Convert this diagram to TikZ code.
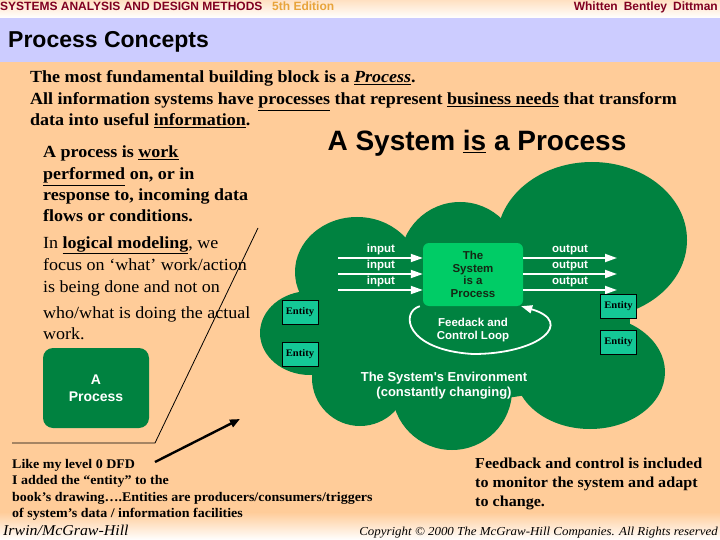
\documentclass[tikz,border=0pt]{standalone}
\usepackage{fontspec}
\setmainfont{Liberation Serif}[FakeStretch=1.06]
\setsansfont{Liberation Sans}
\usetikzlibrary{arrows.meta}
\definecolor{peach}{RGB}{255,204,153}
\definecolor{lav}{RGB}{204,204,255}
\definecolor{cloudg}{RGB}{0,130,64}
\definecolor{boxg}{RGB}{0,204,102}
\definecolor{entg}{RGB}{20,200,150}
\definecolor{hdred}{RGB}{128,0,32}
\definecolor{hdgold}{RGB}{232,164,60}
\newcommand{\fsz}[2]{\fontsize{#1}{#2}\selectfont}
\begin{document}
\begin{tikzpicture}[x=1pt,y=-1pt,
  txt/.style={anchor=base west, inner sep=0pt, font=\bfseries\fsz{17}{20}},
  rtxt/.style={anchor=base west, inner sep=0pt, font=\fsz{17}{20}},
  smalltxt/.style={anchor=base west, inner sep=0pt, font=\bfseries\fsz{13.2}{15}},
  midtxt/.style={anchor=base west, inner sep=0pt, font=\bfseries\fsz{15.2}{17}},
  flowlbl/.style={inner sep=0pt, text=white, font=\sffamily\bfseries\fsz{11.5}{13}},
  flow/.style={draw=white, line width=1.8pt, -{Triangle[length=12pt,width=8pt]}},
  ent/.style={draw=black, fill=entg, line width=0.8pt, minimum width=36pt, minimum height=24pt, inner sep=0pt, font=\bfseries\fsz{10}{11}},
  hdr/.style={anchor=base west, inner sep=0pt, font=\sffamily\bfseries\fsz{12}{14}}
]
\useasboundingbox (0,0) rectangle (720,540);
% backgrounds
\fill[peach] (0,0) rectangle (720,540);
\shade[top color=peach!60!white, bottom color=white] (0,0) rectangle (720,18);
\fill[lav] (0,18) rectangle (720,62);
\shade[top color=peach, bottom color=white] (0,512) rectangle (720,540);

% header
\node[hdr, text=hdred] (h1) at (0,11) {SYSTEMS ANALYSIS AND DESIGN METHODS};
\node[hdr, text=hdgold] (h2) at (272,11) {5th Edition};
\node[hdr, text=hdred, anchor=base east] (h3) at (718,11) {Whitten\hspace{6pt}Bentley\hspace{6pt}Dittman};
\node[anchor=base west, inner sep=0pt, font=\sffamily\bfseries\fsz{23}{26}] (pc) at (8,48) {Process Concepts};

% intro text
\node[txt] (l1) at (30,83) {The most fundamental building block is a \underline{\textit{Process}}.};
\node[txt] (l2) at (30,105) {All information systems have \underline{processes} that represent \underline{business needs} that transform};
\node[txt] (l3) at (30,126) {data into useful \underline{information}.};
\node[anchor=base, inner sep=0pt, font=\sffamily\bfseries\fsz{28}{32}] (title) at (477,151) {A System \underline{is} a Process};

% left paragraph
\node[txt] (p1) at (43,158) {A process is \underline{work}};
\node[txt] (p2) at (43,180) {\underline{performed} on, or in};
\node[txt] (p3) at (43,201) {response to, incoming data};
\node[txt] (p4) at (43,222) {flows or conditions.};
\node[rtxt] (p5) at (43,248) {In \textbf{\underline{logical modeling}}, we};
\node[rtxt] (p6) at (43,270) {focus on ‘what’ work/action};
\node[rtxt] (p7) at (43,292) {is being done and not on};
\node[rtxt] (p8) at (43,318) {who/what is doing the actual};
\node[rtxt] (p9) at (43,339) {work.};

% A Process box
\node[rounded corners=10pt, fill=cloudg, minimum width=106pt, minimum height=80pt, text=white, align=center, font=\sffamily\bfseries\fsz{14}{17}] (ap) at (96,388) {A\\Process};

% pointer lines
\coordinate (q1) at (12,443);
\coordinate (q2) at (155,443);
\coordinate (q3) at (258,228);
\draw[line width=0.8pt] (q1) -- (q2) -- (q3);
\coordinate (ab) at (155,462);
\coordinate (ae) at (240,419);
\draw[line width=2.4pt, -{Triangle[length=10pt,width=8pt]}] (ab) -- (ae);

% cloud
\fill[cloudg] (470,320) ellipse [x radius=160, y radius=80];
\fill[cloudg] (357,272) ellipse [x radius=62, y radius=55];
\fill[cloudg] (460,262) circle [radius=60];
\fill[cloudg] (592,240) ellipse [x radius=95, y radius=78];
\fill[cloudg] (590,372) ellipse [x radius=75, y radius=57];
\fill[cloudg] (452,390) circle [radius=60];
\fill[cloudg] (360,378) circle [radius=48];
\fill[cloudg] (310,333) ellipse [x radius=50, y radius=42];

% system box
\node[fill=boxg, rounded corners=6pt, minimum width=100pt, minimum height=63pt, inner sep=0pt, align=center, text={rgb,255:red,20;green,40;blue,20}, font=\sffamily\bfseries\fsz{11.5}{12.7}] (sys) at (473,274.5) {The\\System\\is a\\Process};

% inputs / outputs
\foreach \k/\yy in {1/258,2/274,3/290}{
  \coordinate (i\k) at (338,\yy);
  \coordinate (o\k) at (617,\yy);
  \draw[flow] (i\k) -- (i\k -| sys.west);
  \draw[flow] (o\k -| sys.east) -- (o\k);
}
\node[flowlbl] (il1) at (381,250) {input};
\node[flowlbl] (il2) at (381,266) {input};
\node[flowlbl] (il3) at (381,282) {input};
\node[flowlbl] (ol1) at (570,250) {output};
\node[flowlbl] (ol2) at (570,266) {output};
\node[flowlbl] (ol3) at (570,282) {output};

% feedback loop
\draw[draw=white, line width=1.8pt, -{Triangle[length=11pt,width=8pt]}]
  ([xshift=-3pt]sys.south west) .. controls (400,312) and (405,350) .. (473,354)
  .. controls (540,354) and (575,322) .. ([xshift=-2pt]sys.south east);
\node[flowlbl, align=center] (fbl) at (473,330) {Feedack and\\Control Loop};

% entities
\node[ent] (e1) at (300,312.5) {Entity};
\node[ent] (e2) at (300,354.5) {Entity};
\node[ent] (e3) at (618.5,306) {Entity};
\node[ent] (e4) at (618.5,342.5) {Entity};

% environment label
\node[inner sep=0pt, text=white, align=center, font=\sffamily\bfseries\fsz{13}{15}] (env) at (444,386) {The System\textquotesingle s Environment\\(constantly changing)};

% bottom texts
\node[smalltxt] (b1) at (12,468) {Like my level 0 DFD};
\node[smalltxt] (b2) at (12,484) {I added the “entity” to the};
\node[smalltxt] (b3) at (12,501) {book’s drawing….Entities are producers/consumers/triggers};
\node[smalltxt] (b4) at (12,517) {of system’s data / information facilities};

\node[midtxt] (r1) at (475,468) {Feedback and control is included};
\node[midtxt] (r2) at (475,487) {to monitor the system and adapt};
\node[midtxt] (r3) at (475,506) {to change.};

% footer
\node[anchor=base west, inner sep=0pt, font=\itshape\fsz{15}{17}] (f1) at (3,535) {Irwin/McGraw-Hill};
\node[anchor=base east, inner sep=0pt, font=\itshape\fsz{12.2}{14}] (f2) at (718,535) {Copyright © 2000 The McGraw-Hill Companies. All Rights reserved};
\end{tikzpicture}
\end{document}
